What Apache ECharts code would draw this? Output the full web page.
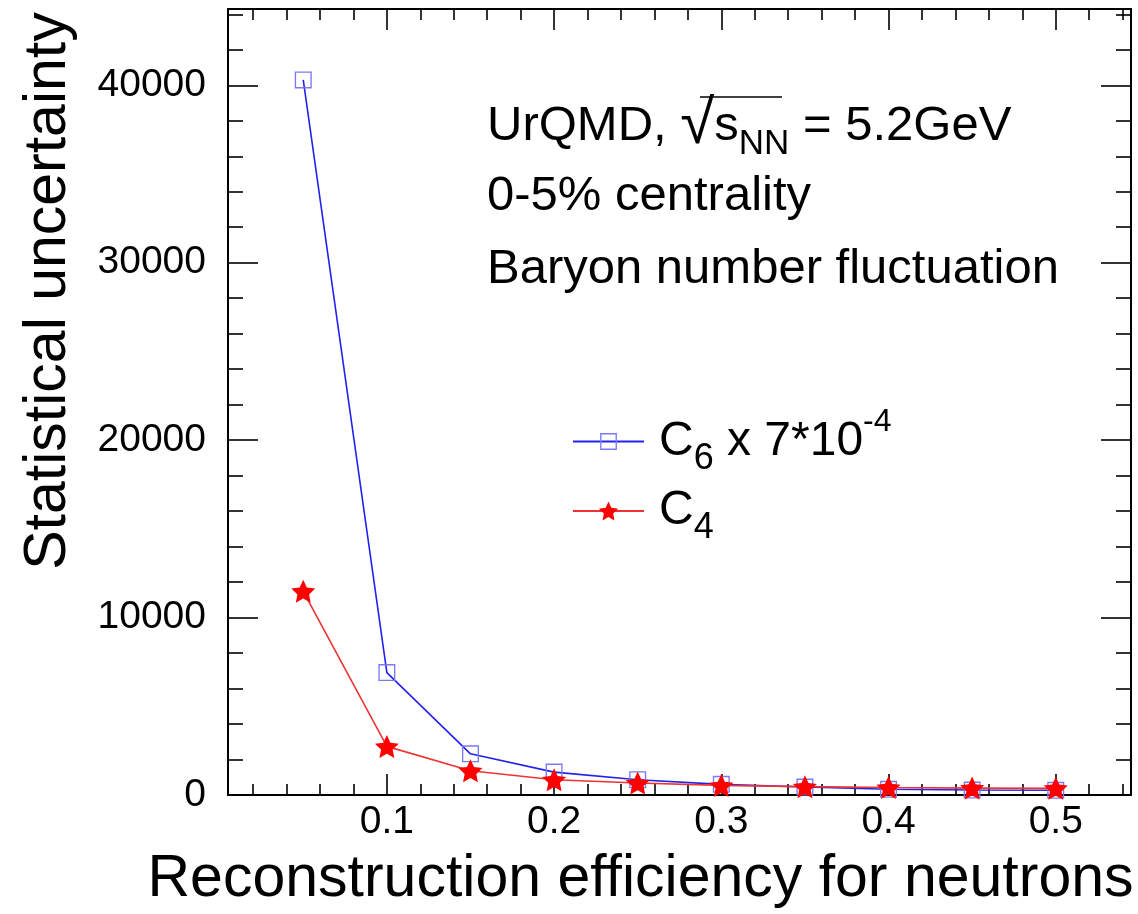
<!DOCTYPE html>
<html>
<head>
<meta charset="utf-8">
<script src="https://cdn.jsdelivr.net/npm/echarts@6/dist/echarts.min.js"></script>
<style>
html,body{margin:0;padding:0;background:#fff;}
#chart{width:1138px;height:914px;}
</style>
</head>
<body>
<div id="chart"></div>
<script>
// ---- data ----
const efficiency = [0.05, 0.10, 0.15, 0.20, 0.25, 0.30, 0.35, 0.40, 0.45, 0.50];
const c6Scaled  = [40300, 6900, 2320, 1290, 860, 600, 450, 320, 280, 265];
const c4        = [11480, 2740, 1365, 860, 680, 540, 470, 420, 390, 375];

const xRange = [0.005, 0.545];
const yRange = [0, 44300];
const xMajorTicks = [0.1, 0.2, 0.3, 0.4, 0.5];
const xMinorTicks = [0.02,0.04,0.06,0.08,0.12,0.14,0.16,0.18,0.22,0.24,0.26,0.28,0.32,0.34,0.36,0.38,0.42,0.44,0.46,0.48,0.52,0.54];
const xTickLabels = ['0.1','0.2','0.3','0.4','0.5'];
const yMajorTicks = [0, 10000, 20000, 30000, 40000];
const yMinorTicks = [2000,4000,6000,8000,12000,14000,16000,18000,22000,24000,26000,28000,32000,34000,36000,38000,42000,44000];
const yTickLabels = ['0','10000','20000','30000','40000'];

const xTitle = 'Reconstruction efficiency for neutrons';
const yTitle = 'Statistical uncertainty';
const nameC6 = 'C6 x 7*10^-4';
const nameC4 = 'C4';

const FONT = "'Liberation Sans', Arial, Helvetica, sans-serif";
const starPath = 'path://M0,-100 L28,-39 L95,-31 L46,15 L59,81 L0,48 L-59,81 L-46,15 L-95,-31 L-28,-39 Z';
const squarePath = 'path://M0,0 H20 V20 H0 Z M1.6,1.6 V18.4 H18.4 V1.6 Z';

const chart = echarts.init(document.getElementById('chart'), null, {renderer: 'canvas'});

function xAxisDef(pos, ticks, len, labels, line) {
  return {
    type: 'value', position: pos, min: xRange[0], max: xRange[1],
    axisLine: {show: line, onZero: false, lineStyle: {color: '#000', width: 2}},
    axisTick: {show: true, inside: true, length: len, customValues: ticks, lineStyle: {color: '#000', width: 1.6}},
    axisLabel: labels ? {
      show: true, customValues: xMajorTicks, margin: 8,
      formatter: v => xTickLabels[xMajorTicks.findIndex(t => Math.abs(t - v) < 1e-9)] || '',
      fontFamily: FONT, fontSize: 39, color: '#000'
    } : {show: false},
    splitLine: {show: false}
  };
}
function yAxisDef(pos, ticks, len, labels, line) {
  return {
    type: 'value', position: pos, min: yRange[0], max: yRange[1],
    axisLine: {show: line, onZero: false, lineStyle: {color: '#000', width: 2}},
    axisTick: {show: true, inside: true, length: len, customValues: ticks, lineStyle: {color: '#000', width: 1.6}},
    axisLabel: labels ? {
      show: true, customValues: yMajorTicks, margin: 22,
      formatter: v => yTickLabels[yMajorTicks.indexOf(v)] || '',
      fontFamily: FONT, fontSize: 39, color: '#000'
    } : {show: false},
    splitLine: {show: false}
  };
}

const xAxes = [
  xAxisDef('bottom', xMajorTicks, 21, true, true),
  xAxisDef('bottom', xMinorTicks, 11, false, false),
  xAxisDef('top', xMajorTicks, 21, false, true),
  xAxisDef('top', xMinorTicks, 11, false, false)
];
Object.assign(xAxes[0], {
  name: xTitle, nameLocation: 'middle', nameGap: 55,
  nameTextStyle: {fontFamily: FONT, fontSize: 59, color: '#000', padding: [0, 78, 0, 0]}
});
const yAxes = [
  yAxisDef('left', yMajorTicks, 30, true, true),
  yAxisDef('left', yMinorTicks, 15, false, false),
  yAxisDef('right', yMajorTicks, 30, false, true),
  yAxisDef('right', yMinorTicks, 15, false, false)
];
Object.assign(yAxes[0], {
  name: yTitle, nameLocation: 'middle', nameGap: 150,
  nameTextStyle: {fontFamily: FONT, fontSize: 59, color: '#000', padding: [0, 0, 0, 222]}
});

const legendRich = {
  b:   {fontFamily: FONT, fontSize: 48, color: '#000', lineHeight: 71, verticalAlign: 'middle'},
  sub: {fontFamily: FONT, fontSize: 36, color: '#000', lineHeight: 10, verticalAlign: 'bottom'},
  sup: {fontFamily: FONT, fontSize: 32, color: '#000', lineHeight: 10, verticalAlign: 'top'}
};
function legendFmt(name) {
  if (name === nameC6) return '{b|C}{sub|6}{b| x 7*10}{sup|-4}';
  return '{b|C}{sub|4}';
}

const option = {
  animation: false,
  backgroundColor: '#fff',
  grid: {left: 228, right: 7, top: 9, bottom: 117, containLabel: false},
  xAxis: xAxes,
  yAxis: yAxes,
  legend: [
    {data: [nameC6], left: 572, top: 406, padding: 0, itemWidth: 71, itemHeight: 21,
     formatter: legendFmt, textStyle: {rich: legendRich, padding: [0, 0, 0, 10]}, selectedMode: false},
    {data: [nameC4], left: 572, top: 487, padding: 0, itemWidth: 71, itemHeight: 24,
     formatter: legendFmt, textStyle: {rich: legendRich, padding: [0, 0, 0, 10]}, selectedMode: false}
  ],
  series: [
    {
      name: nameC6, type: 'line', xAxisIndex: 0, yAxisIndex: 0,
      data: efficiency.map((x, i) => [x, c6Scaled[i]]),
      symbol: squarePath, symbolSize: 17,
      lineStyle: {color: '#2222ee', width: 1.6},
      itemStyle: {color: '#7a7af2'},
      z: 2
    },
    {
      name: nameC4, type: 'line', xAxisIndex: 0, yAxisIndex: 0,
      data: efficiency.map((x, i) => [x, c4[i]]),
      symbol: starPath, symbolSize: [24, 23],
      lineStyle: {color: '#ee3333', width: 1.6},
      itemStyle: {color: '#ff0000'},
      z: 3
    }
  ],
  graphic: [
    {
      type: 'text', left: 487, top: 95, silent: true,
      style: {
        text: '{b|UrQMD, }{sq|√}{b|s}{sub|NN}{b| = 5.2GeV}',
        rich: {
          b:   {fontFamily: FONT, fontSize: 49, fill: '#000', lineHeight: 71, verticalAlign: 'middle'},
          sq:  {fontFamily: FONT, fontSize: 62, fill: '#000', lineHeight: 10, verticalAlign: 'middle'},
          sub: {fontFamily: FONT, fontSize: 35, fill: '#000', lineHeight: 10, verticalAlign: 'bottom'}
        }
      }
    },
    {
      type: 'line', silent: true,
      shape: {x1: 700, y1: 97, x2: 782, y2: 97},
      style: {stroke: '#000', lineWidth: 1.5}
    },
    {
      type: 'text', left: 487, top: 172, silent: true,
      style: {text: '0-5% centrality', fontFamily: FONT, fontSize: 49, fill: '#000'}
    },
    {
      type: 'text', left: 487, top: 245, silent: true,
      style: {text: 'Baryon number fluctuation', fontFamily: FONT, fontSize: 49, fill: '#000'}
    }
  ]
};
chart.setOption(option);
</script>
</body>
</html>
